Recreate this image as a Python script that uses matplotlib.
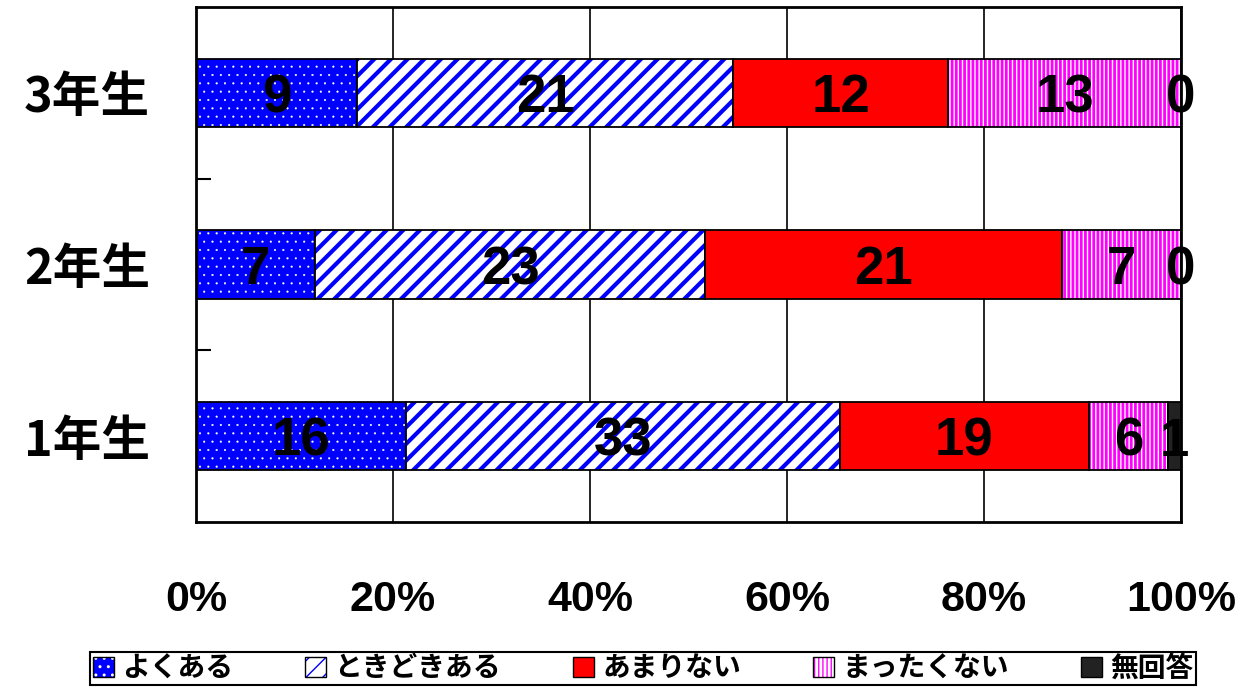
import matplotlib
matplotlib.use('Agg')
import matplotlib.pyplot as plt
from matplotlib.patches import Patch
from matplotlib.legend_handler import HandlerTuple
import numpy as np

grades = ['1年生', '2年生', '3年生']
answers = ['よくある', 'ときどきある', 'あまりない', 'まったくない', '無回答']
often = [16, 7, 9]
sometimes = [33, 23, 21]
rarely = [19, 21, 12]
never = [6, 7, 13]
no_answer = [1, 0, 0]
xticklabels = ['0%', '20%', '40%', '60%', '80%', '100%']

series = [often, sometimes, rarely, never, no_answer]
# face colour, hatch, hatch colour, hatch linewidth
styles = [
    ('#0000ff', '..', 'white', 0.3),
    ('white', '//', '#0000ff', 3.0),
    ('#ff0000', None, None, 1.0),
    ('white', '||||', '#ff00ff', 2.0),
    ('#222222', None, None, 1.0),
]

jp = ['Noto Sans CJK JP', 'DejaVu Sans']
num = ['Liberation Sans Narrow', 'Liberation Sans', 'DejaVu Sans']

fig = plt.figure(figsize=(12.45, 6.89), dpi=100)
ax = fig.add_axes([0.1574, 0.2424, 0.7912, 0.7474])

data = np.array(series, dtype=float)
totals = data.sum(axis=0)
pct = data / totals * 100
y = np.arange(len(grades))
left = np.zeros(len(grades))


def hatch_bar(yy, w, l, face, hatch, hcol, hlw, z):
    ax.barh(yy, w, left=l, height=0.4, color=face, linewidth=0, zorder=z)
    if hatch:
        with plt.rc_context({'hatch.linewidth': hlw}):
            hb = ax.barh(yy, w, left=l, height=0.4, color='none', edgecolor=hcol,
                         hatch=hatch, linewidth=0, zorder=z + 0.1)
        for p in hb:
            if hasattr(p, 'set_hatch_linewidth'):
                p.set_hatch_linewidth(hlw)
    ax.barh(yy, w, left=l, height=0.4, color='none', edgecolor='black',
            linewidth=1.3, zorder=z + 0.2)


handles = []
for i, (vals, st) in enumerate(zip(series, styles)):
    face, hatch, hcol, hlw = st
    hatch_bar(y, pct[i], left, face, hatch, hcol, hlw, 2 + i)
    for j in range(len(grades)):
        ax.text(left[j] + pct[i][j] / 2, y[j], str(vals[j]), ha='center',
                va='center_baseline', fontsize=38, family=num, fontweight='bold',
                zorder=10)
    left = left + pct[i]
    h = [Patch(facecolor=face, linewidth=0)]
    if hatch:
        hp = Patch(facecolor='none', edgecolor=hcol, hatch=hatch, linewidth=0)
        if hasattr(hp, 'set_hatch_linewidth'):
            hp.set_hatch_linewidth(hlw)
        h.append(hp)
    h.append(Patch(facecolor='none', edgecolor='black', linewidth=1.0))
    handles.append(tuple(h))

ax.set_xlim(0, 100)
ax.set_ylim(-0.5, 2.5)
ax.set_xticks([0, 20, 40, 60, 80, 100])
ax.set_xticklabels(xticklabels, family=num, fontsize=31, fontweight='bold')
ax.tick_params(axis='x', length=0, pad=42)
ax.set_yticks(y)
ax.set_yticklabels(grades, family=jp, fontsize=35, fontweight='bold')
ax.tick_params(axis='y', which='major', length=0, pad=33)
ax.set_yticks([0.5, 1.5], minor=True)
ax.tick_params(axis='y', which='minor', direction='in', length=11, width=1.5)
ax.xaxis.grid(True, color='black', linewidth=1.2, zorder=0)
ax.set_axisbelow(True)
for s in ax.spines.values():
    s.set_linewidth(2)

leg = fig.legend(handles, answers, loc='center', bbox_to_anchor=(0.5165, 0.0298),
                 ncol=5, handler_map={tuple: HandlerTuple(ndivide=1, pad=0)},
                 prop={'family': jp, 'size': 20, 'weight': 'bold'},
                 fancybox=False, framealpha=1, edgecolor='black',
                 handlelength=0.75, handleheight=0.75, handletextpad=0.3,
                 columnspacing=2.6, borderpad=0.1, borderaxespad=0)
leg.get_frame().set_linewidth(1.5)

fig.savefig('out.png', dpi=100)
